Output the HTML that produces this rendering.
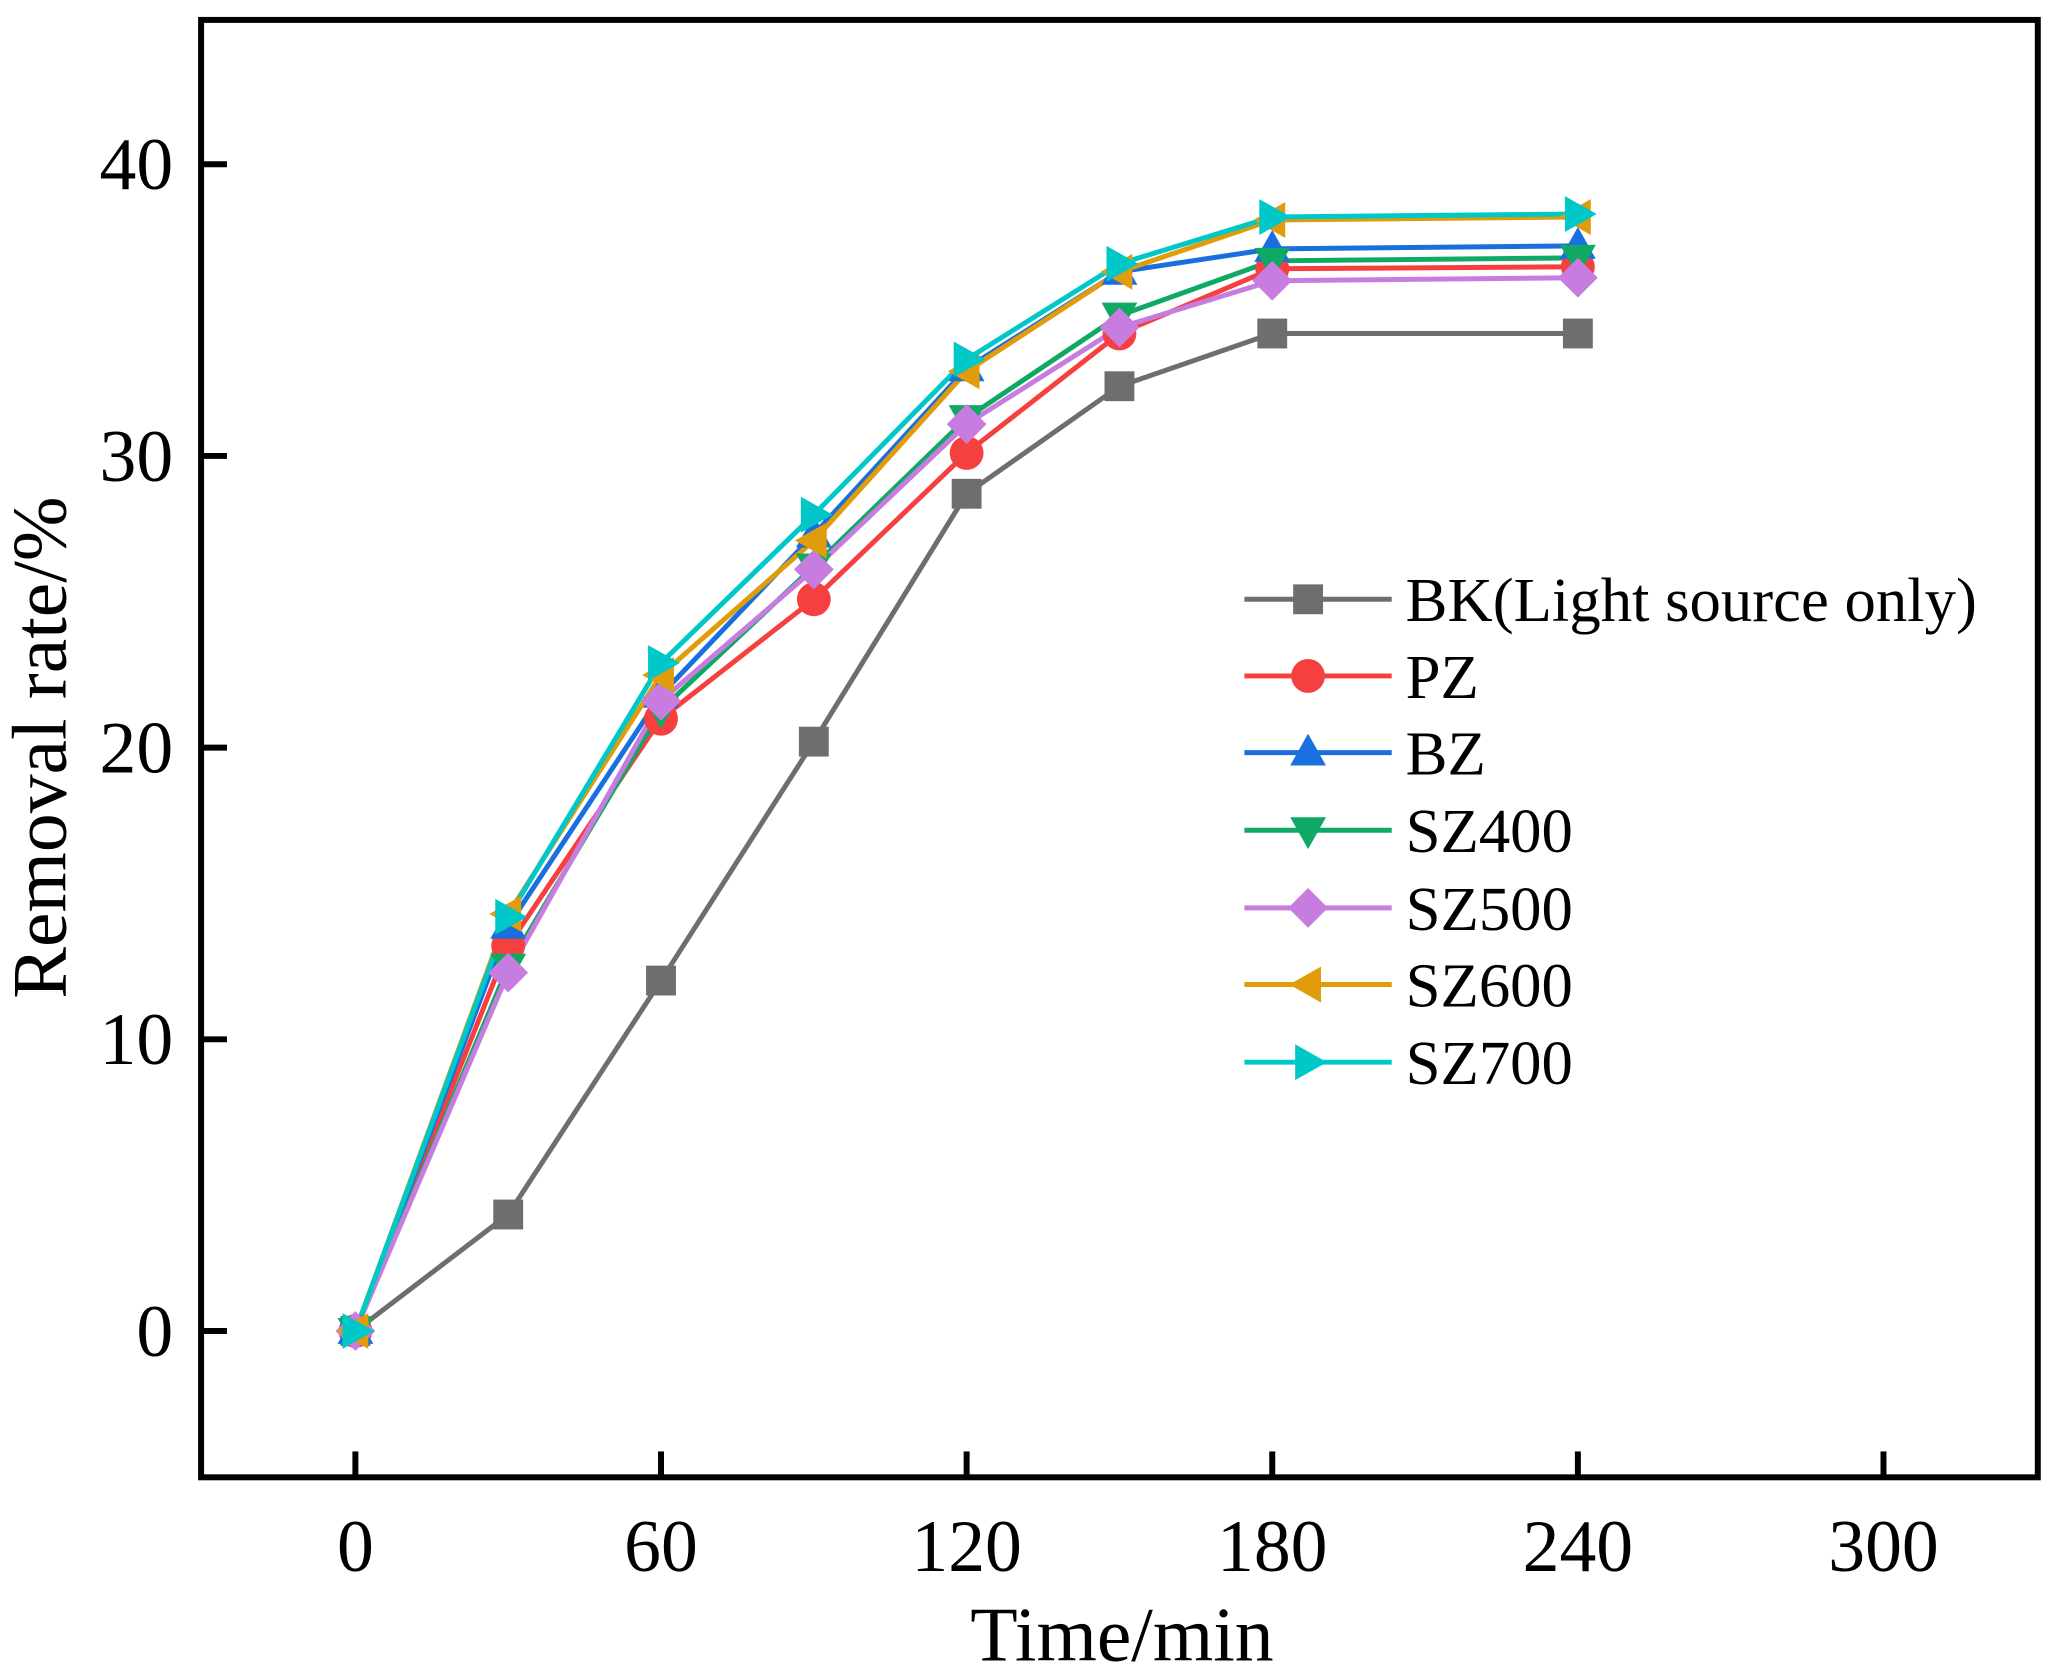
<!DOCTYPE html>
<html><head><meta charset="utf-8"><style>
html,body{margin:0;padding:0;background:#fff;}
svg{display:block;font-family:"Liberation Serif",serif;}
</style></head><body>
<svg width="2063" height="1680" viewBox="0 0 2063 1680" xmlns="http://www.w3.org/2000/svg">
<defs>
<rect id="sq" x="-15" y="-15" width="30" height="30"/>
<circle id="ci" r="17"/>
<polygon id="up" points="0,-19 18,13 -18,13"/>
<polygon id="dn" points="0,19 18,-13 -18,-13"/>
<polygon id="di" points="0,-20 20,0 0,20 -20,0"/>
<polygon id="lt" points="-19,0 13,-18 13,18"/>
<polygon id="rt" points="19,0 -13,-18 -13,18"/>
</defs>
<rect width="2063" height="1680" fill="#fff"/>
<g transform="scale(0.9955)">
<g fill="none" stroke-width="5" stroke-linejoin="round">
<polyline stroke="#6e6e6e" points="357,1337 510.5,1220 664,985 817.5,745 971,496 1124.5,388 1278,335 1585,335"/>
<polyline stroke="#f64040" points="357,1337 510.5,950 664,722 817.5,602 971,455 1124.5,335 1278,270 1585,268"/>
<polyline stroke="#1a6fdf" points="357,1337 510.5,930 664,698 817.5,537 971,370 1124.5,273 1278,250 1585,247"/>
<polyline stroke="#0fa864" points="357,1337 510.5,971 664,713 817.5,569 971,420 1124.5,317 1278,262 1585,259"/>
<polyline stroke="#c77de0" points="357,1337 510.5,977 664,704 817.5,572 971,426 1124.5,329 1278,282 1585,279"/>
<polyline stroke="#e09c0a" points="357,1337 510.5,918 664,678 817.5,543 971,373 1124.5,273 1278,221 1585,218"/>
<polyline stroke="#00c8c8" points="357,1337 510.5,921 664,666 817.5,517 971,361 1124.5,265 1278,218 1585,215"/>
</g>
<g fill="#6e6e6e"><use href="#sq" x="357" y="1337"/><use href="#sq" x="510.5" y="1220"/><use href="#sq" x="664" y="985"/><use href="#sq" x="817.5" y="745"/><use href="#sq" x="971" y="496"/><use href="#sq" x="1124.5" y="388"/><use href="#sq" x="1278" y="335"/><use href="#sq" x="1585" y="335"/></g>
<g fill="#f64040"><use href="#ci" x="357" y="1337"/><use href="#ci" x="510.5" y="950"/><use href="#ci" x="664" y="722"/><use href="#ci" x="817.5" y="602"/><use href="#ci" x="971" y="455"/><use href="#ci" x="1124.5" y="335"/><use href="#ci" x="1278" y="270"/><use href="#ci" x="1585" y="268"/></g>
<g fill="#1a6fdf"><use href="#up" x="357" y="1337"/><use href="#up" x="510.5" y="930"/><use href="#up" x="664" y="698"/><use href="#up" x="817.5" y="537"/><use href="#up" x="971" y="370"/><use href="#up" x="1124.5" y="273"/><use href="#up" x="1278" y="250"/><use href="#up" x="1585" y="247"/></g>
<g fill="#0fa864"><use href="#dn" x="357" y="1337"/><use href="#dn" x="510.5" y="971"/><use href="#dn" x="664" y="713"/><use href="#dn" x="817.5" y="569"/><use href="#dn" x="971" y="420"/><use href="#dn" x="1124.5" y="317"/><use href="#dn" x="1278" y="262"/><use href="#dn" x="1585" y="259"/></g>
<g fill="#c77de0"><use href="#di" x="357" y="1337"/><use href="#di" x="510.5" y="977"/><use href="#di" x="664" y="704"/><use href="#di" x="817.5" y="572"/><use href="#di" x="971" y="426"/><use href="#di" x="1124.5" y="329"/><use href="#di" x="1278" y="282"/><use href="#di" x="1585" y="279"/></g>
<g fill="#e09c0a"><use href="#lt" x="357" y="1337"/><use href="#lt" x="510.5" y="918"/><use href="#lt" x="664" y="678"/><use href="#lt" x="817.5" y="543"/><use href="#lt" x="971" y="373"/><use href="#lt" x="1124.5" y="273"/><use href="#lt" x="1278" y="221"/><use href="#lt" x="1585" y="218"/></g>
<g fill="#00c8c8"><use href="#rt" x="357" y="1337"/><use href="#rt" x="510.5" y="921"/><use href="#rt" x="664" y="666"/><use href="#rt" x="817.5" y="517"/><use href="#rt" x="971" y="361"/><use href="#rt" x="1124.5" y="265"/><use href="#rt" x="1278" y="218"/><use href="#rt" x="1585" y="215"/></g>
<rect x="202" y="20" width="1845" height="1464" fill="none" stroke="#000" stroke-width="6"/>
<g stroke="#000" stroke-width="6">
<line x1="357" y1="1484" x2="357" y2="1458"/><line x1="664" y1="1484" x2="664" y2="1458"/><line x1="971" y1="1484" x2="971" y2="1458"/><line x1="1278" y1="1484" x2="1278" y2="1458"/><line x1="1585" y1="1484" x2="1585" y2="1458"/><line x1="1892" y1="1484" x2="1892" y2="1458"/>
<line x1="202" y1="1337" x2="228" y2="1337"/><line x1="202" y1="1044" x2="228" y2="1044"/><line x1="202" y1="751" x2="228" y2="751"/><line x1="202" y1="458" x2="228" y2="458"/><line x1="202" y1="165" x2="228" y2="165"/>
</g>
<g font-size="74" fill="#000" text-anchor="middle">
<text x="357" y="1578">0</text><text x="664" y="1578">60</text><text x="971" y="1578">120</text><text x="1278" y="1578">180</text><text x="1585" y="1578">240</text><text x="1892" y="1578">300</text>
</g>
<g font-size="74" fill="#000" text-anchor="end">
<text x="174" y="1362">0</text><text x="174" y="1069">10</text><text x="174" y="776">20</text><text x="174" y="483">30</text><text x="174" y="190">40</text>
</g>
<text x="1127" y="1668" font-size="78" text-anchor="middle">Time/min</text>
<text transform="translate(66,751) rotate(-90)" font-size="78" text-anchor="middle">Removal rate/%</text>
<g stroke-width="5">
<line x1="1250" y1="602" x2="1398" y2="602" stroke="#6e6e6e"/>
<line x1="1250" y1="679" x2="1398" y2="679" stroke="#f64040"/>
<line x1="1250" y1="756" x2="1398" y2="756" stroke="#1a6fdf"/>
<line x1="1250" y1="834" x2="1398" y2="834" stroke="#0fa864"/>
<line x1="1250" y1="912" x2="1398" y2="912" stroke="#c77de0"/>
<line x1="1250" y1="989" x2="1398" y2="989" stroke="#e09c0a"/>
<line x1="1250" y1="1067" x2="1398" y2="1067" stroke="#00c8c8"/>
</g>
<use href="#sq" x="1314" y="602" fill="#6e6e6e"/>
<use href="#ci" x="1314" y="679" fill="#f64040"/>
<use href="#up" x="1314" y="756" fill="#1a6fdf"/>
<use href="#dn" x="1314" y="834" fill="#0fa864"/>
<use href="#di" x="1314" y="912" fill="#c77de0"/>
<use href="#lt" x="1314" y="989" fill="#e09c0a"/>
<use href="#rt" x="1314" y="1067" fill="#00c8c8"/>
<g font-size="63" fill="#000">
<text x="1412" y="624">BK(Light source only)</text>
<text x="1412" y="701">PZ</text>
<text x="1412" y="778">BZ</text>
<text x="1412" y="856">SZ400</text>
<text x="1412" y="934">SZ500</text>
<text x="1412" y="1011">SZ600</text>
<text x="1412" y="1089">SZ700</text>
</g>
</g>
</svg>
</body></html>
